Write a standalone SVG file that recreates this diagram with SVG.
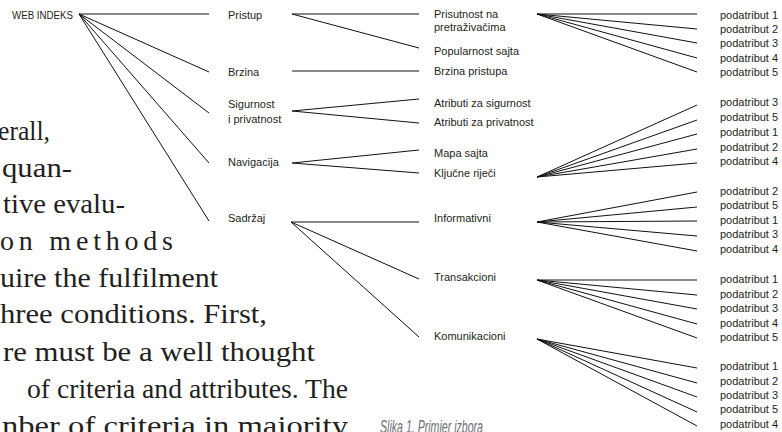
<svg xmlns="http://www.w3.org/2000/svg" width="782" height="432" viewBox="0 0 782 432">
<style>
.bg{fill:#fff}
.page{font-family:"Liberation Serif","Times New Roman",serif;font-size:28px;fill:#231f20}
.lbl{font-family:"Liberation Sans",Arial,sans-serif;font-size:11px;fill:#231f20}
.root{font-family:"Liberation Sans",Arial,sans-serif;font-size:11px;fill:#231f20}
.cap{font-family:"Liberation Sans",Arial,sans-serif;font-size:18px;font-style:italic;fill:#6d6e71}
.edge{stroke:#111;stroke-width:1;fill:none}
</style>
<rect class="bg" x="0" y="0" width="782" height="432"/>
<g id="page-text">
<text class="page" x="-2" y="140" textLength="52" lengthAdjust="spacingAndGlyphs">erall,</text>
<text class="page" x="2" y="177" textLength="70" lengthAdjust="spacingAndGlyphs">quan-</text>
<text class="page" x="3" y="213" textLength="122" lengthAdjust="spacingAndGlyphs">tive evalu-</text>
<text class="page" x="0" y="250" textLength="173" lengthAdjust="spacing">on methods</text>
<text class="page" x="0" y="287" textLength="218" lengthAdjust="spacingAndGlyphs">uire the fulfilment</text>
<text class="page" x="0" y="323" textLength="267" lengthAdjust="spacingAndGlyphs">hree conditions. First,</text>
<text class="page" x="3" y="361" textLength="312" lengthAdjust="spacingAndGlyphs">re must be a well thought</text>
<text class="page" x="27" y="398" textLength="321" lengthAdjust="spacingAndGlyphs">of criteria and attributes. The</text>
<text class="page" x="2" y="435" textLength="346" lengthAdjust="spacingAndGlyphs">nber of criteria in majority</text>
</g>
<text id="caption" class="cap" x="380" y="433" textLength="103" lengthAdjust="spacingAndGlyphs">Slika 1. Primjer izbora</text>
<g id="connectors">
<line class="edge" x1="79" y1="14" x2="209" y2="14"/>
<line class="edge" x1="79" y1="14" x2="209" y2="72"/>
<line class="edge" x1="79" y1="14" x2="209" y2="113"/>
<line class="edge" x1="79" y1="14" x2="209" y2="163"/>
<line class="edge" x1="79" y1="14" x2="209" y2="221"/>
<line class="edge" x1="292" y1="14" x2="419" y2="14"/>
<line class="edge" x1="292" y1="14" x2="419" y2="48"/>
<line class="edge" x1="292" y1="71" x2="419" y2="71"/>
<line class="edge" x1="292" y1="111" x2="419" y2="99"/>
<line class="edge" x1="292" y1="111" x2="419" y2="123"/>
<line class="edge" x1="292" y1="163" x2="419" y2="150"/>
<line class="edge" x1="292" y1="163" x2="419" y2="173"/>
<line class="edge" x1="291" y1="222" x2="419" y2="222"/>
<line class="edge" x1="291" y1="222" x2="419" y2="279"/>
<line class="edge" x1="291" y1="222" x2="419" y2="337"/>
<line class="edge" x1="537" y1="14" x2="697" y2="14"/>
<line class="edge" x1="537" y1="14" x2="697" y2="29"/>
<line class="edge" x1="537" y1="14" x2="697" y2="43"/>
<line class="edge" x1="537" y1="14" x2="697" y2="58"/>
<line class="edge" x1="537" y1="14" x2="697" y2="72"/>
<line class="edge" x1="537" y1="177" x2="697" y2="105"/>
<line class="edge" x1="537" y1="177" x2="697" y2="120"/>
<line class="edge" x1="537" y1="177" x2="697" y2="134"/>
<line class="edge" x1="537" y1="177" x2="697" y2="149"/>
<line class="edge" x1="537" y1="177" x2="697" y2="163"/>
<line class="edge" x1="537" y1="222" x2="697" y2="192"/>
<line class="edge" x1="537" y1="222" x2="697" y2="207"/>
<line class="edge" x1="537" y1="222" x2="697" y2="221"/>
<line class="edge" x1="537" y1="222" x2="697" y2="236"/>
<line class="edge" x1="537" y1="222" x2="697" y2="251"/>
<line class="edge" x1="537" y1="280" x2="697" y2="280"/>
<line class="edge" x1="537" y1="280" x2="697" y2="295"/>
<line class="edge" x1="537" y1="280" x2="697" y2="309"/>
<line class="edge" x1="537" y1="280" x2="697" y2="324"/>
<line class="edge" x1="537" y1="280" x2="697" y2="338"/>
<line class="edge" x1="537" y1="339" x2="697" y2="368"/>
<line class="edge" x1="537" y1="339" x2="697" y2="383"/>
<line class="edge" x1="537" y1="339" x2="697" y2="397"/>
<line class="edge" x1="537" y1="339" x2="697" y2="412"/>
<line class="edge" x1="537" y1="339" x2="697" y2="426"/>
</g>
<g id="web-indeks"><text class="root" x="12" y="19" textLength="61" lengthAdjust="spacingAndGlyphs">WEB INDEKS</text></g>
<g id="pristup"><text class="lbl" x="228" y="19">Pristup</text></g>
<g id="brzina"><text class="lbl" x="228" y="76">Brzina</text></g>
<g id="sigurnost"><text class="lbl" x="228" y="108">Sigurnost</text><text class="lbl" x="228" y="123">i privatnost</text></g>
<g id="navigacija"><text class="lbl" x="228" y="166">Navigacija</text></g>
<g id="sadrzaj"><text class="lbl" x="228" y="222">Sadržaj</text></g>
<g id="prisutnost"><text class="lbl" x="434" y="18">Prisutnost na</text><text class="lbl" x="434" y="31">pretraživačima</text></g>
<g id="popularnost"><text class="lbl" x="434" y="55">Popularnost sajta</text></g>
<g id="brzina-pristupa"><text class="lbl" x="434" y="75">Brzina pristupa</text></g>
<g id="atr-sigurnost"><text class="lbl" x="434" y="107">Atributi za sigurnost</text></g>
<g id="atr-privatnost"><text class="lbl" x="434" y="126">Atributi za privatnost</text></g>
<g id="mapa-sajta"><text class="lbl" x="434" y="157">Mapa sajta</text></g>
<g id="kljucne-rijeci"><text class="lbl" x="434" y="177">Ključne riječi</text></g>
<g id="informativni"><text class="lbl" x="434" y="222">Informativni</text></g>
<g id="transakcioni"><text class="lbl" x="434" y="281">Transakcioni</text></g>
<g id="komunikacioni"><text class="lbl" x="434" y="340">Komunikacioni</text></g>
<g id="sub-g1">
<text class="lbl" x="720" y="19">podatribut 1</text>
<text class="lbl" x="720" y="33">podatribut 2</text>
<text class="lbl" x="720" y="47">podatribut 3</text>
<text class="lbl" x="720" y="62">podatribut 4</text>
<text class="lbl" x="720" y="76">podatribut 5</text>
</g>
<g id="sub-g2">
<text class="lbl" x="720" y="106">podatribut 3</text>
<text class="lbl" x="720" y="121">podatribut 5</text>
<text class="lbl" x="720" y="135.5">podatribut 1</text>
<text class="lbl" x="720" y="150.5">podatribut 2</text>
<text class="lbl" x="720" y="165">podatribut 4</text>
</g>
<g id="sub-g3">
<text class="lbl" x="720" y="194.5">podatribut 2</text>
<text class="lbl" x="720" y="209">podatribut 5</text>
<text class="lbl" x="720" y="223.5">podatribut 1</text>
<text class="lbl" x="720" y="238">podatribut 3</text>
<text class="lbl" x="720" y="252.5">podatribut 4</text>
</g>
<g id="sub-g4">
<text class="lbl" x="720" y="283">podatribut 1</text>
<text class="lbl" x="720" y="297.5">podatribut 2</text>
<text class="lbl" x="720" y="312">podatribut 3</text>
<text class="lbl" x="720" y="326.5">podatribut 4</text>
<text class="lbl" x="720" y="341">podatribut 5</text>
</g>
<g id="sub-g5">
<text class="lbl" x="720" y="370">podatribut 1</text>
<text class="lbl" x="720" y="384.5">podatribut 2</text>
<text class="lbl" x="720" y="399">podatribut 3</text>
<text class="lbl" x="720" y="413">podatribut 5</text>
<text class="lbl" x="720" y="428">podatribut 4</text>
</g>
</svg>
